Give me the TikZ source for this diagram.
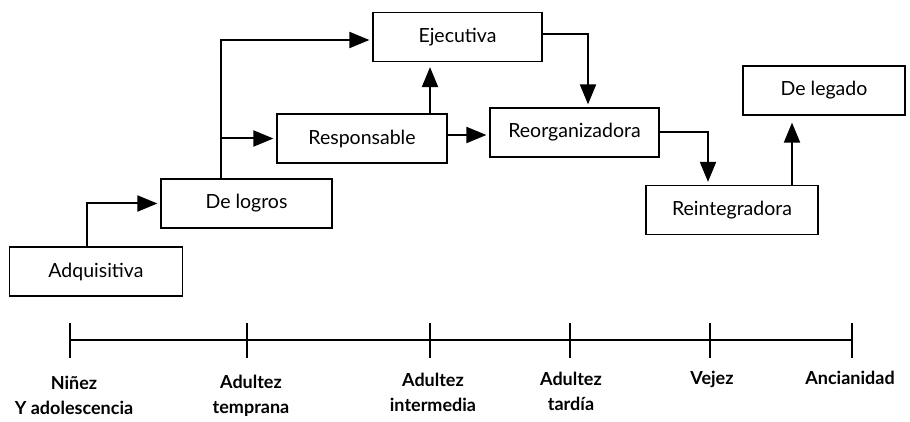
\documentclass[tikz,border=0pt]{standalone}
\usepackage{fontspec}
\setmainfont{Lato}
\usetikzlibrary{arrows.meta}
\begin{document}
\begin{tikzpicture}[x=1pt,y=-1pt,
  box/.style={draw, line width=1.2pt, rectangle, inner sep=0pt, minimum height=49pt, font=\fontsize{19.5}{22}\selectfont},
  arr/.style={line width=2pt, -{Triangle[length=20pt,width=16pt]}, shorten >=3pt},
  tl/.style={line width=1.7pt},
  lab/.style={font=\bfseries\fontsize{18}{25}\selectfont, align=center, inner sep=0pt, anchor=north}
]
\useasboundingbox (0,0) rectangle (910,422);
% boxes
\node[box, minimum width=173pt] (adq) at (96,271.5) {Adquisitiva};
\node[box, minimum width=171pt] (logros) at (246.5,203.5) {De logros};
\node[box, minimum width=170pt] (resp) at (362,138.5) {Responsable};
\node[box, minimum width=169pt] (ejec) at (457.5,37) {Ejecutiva};
\node[box, minimum width=169pt] (reorg) at (574.5,132.5) {Reorganizadora};
\node[box, minimum width=172pt] (reint) at (732,210) {Reintegradora};
\node[box, minimum width=162pt] (legado) at (824,90.5) {De legado};
% connector guides
\coordinate (xa) at (87,0);
\coordinate (xb) at (221,0);
\coordinate (xc) at (430,0);
\coordinate (xd) at (588,0);
\coordinate (xe) at (708,0);
\coordinate (xf) at (792,0);
\coordinate (yq) at (0,40);
\coordinate (ye) at (0,34);
\coordinate (yr) at (0,135);
% connectors
\draw[arr] (adq.north -| xa) |- (logros.west);
\draw[arr] (logros.north -| xb) |- (ejec.west |- yq);
\coordinate (br) at (xb |- resp.west);
\draw[arr] (br) -- (resp.west);
\draw[arr, shorten >=5pt] (resp.north -| xc) -- (ejec.south -| xc);
\draw[arr] (resp.east |- yr) -- (reorg.west |- yr);
\draw[arr] (ejec.east |- ye) -| (reorg.north -| xd);
\draw[arr] (reorg.east) -| (reint.north -| xe);
\draw[arr, shorten >=7pt] (reint.north -| xf) -- (legado.south -| xf);
% timeline
\foreach \n/\x in {0/70,1/247,2/430,3/570,4/710,5/852}
  \coordinate (t\n) at (\x,340);
\draw[tl] (t0) -- (t5);
\foreach \n in {0,...,5}
  \draw[tl] ([yshift=17pt]t\n) -- ([yshift=-18pt]t\n);
% labels
\node[lab] (l0) at (74,376) {Niñez\\Y adolescencia};
\node[lab] (l1) at (251,375) {Adultez\\temprana};
\node[lab] (l2) at (433,373) {Adultez\\intermedia};
\node[lab] (l3) at (571,372) {Adultez\\tardía};
\node[lab] (l4) at (712,371) {Vejez};
\node[lab] (l5) at (850,371) {Ancianidad};
\end{tikzpicture}
\end{document}
